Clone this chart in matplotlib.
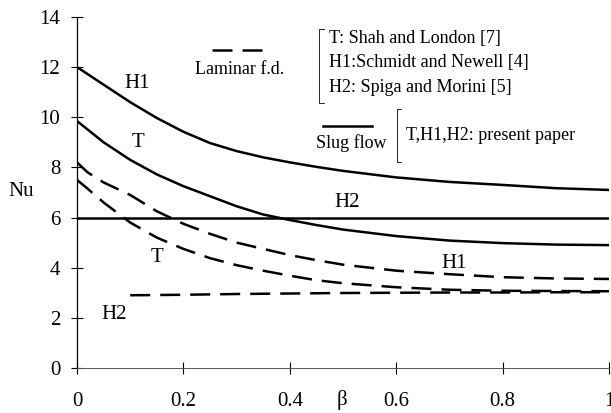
import numpy as np
import matplotlib.pyplot as plt

plt.rcParams['font.family'] = ['Liberation Serif', 'DejaVu Serif']

# slug flow (present paper), solid lines
beta_s = [0, 0.05, 0.1, 0.15, 0.2, 0.25, 0.3, 0.35, 0.4, 0.45, 0.5, 0.6, 0.7, 0.8, 0.9, 1.0]
nu_h1_slug = [12.0, 11.3, 10.6, 9.97, 9.42, 8.97, 8.65, 8.4, 8.2, 8.02, 7.86, 7.6, 7.42, 7.3, 7.17, 7.1]
nu_t_slug = [9.85, 9.0, 8.3, 7.72, 7.25, 6.85, 6.45, 6.12, 5.9, 5.7, 5.52, 5.26, 5.08, 4.98, 4.92, 4.9]
beta_h2_slug = [0, 1.0]
nu_h2_slug = [6.0, 6.0]

# laminar fully developed, dashed lines
beta_l = [0, 0.02, 0.05, 0.1, 0.15, 0.2, 0.25, 0.3, 0.35, 0.4, 0.45, 0.5, 0.6, 0.7, 0.8, 0.9, 1.0]
nu_h1_lam = [8.2, 7.8, 7.4, 6.9, 6.25, 5.75, 5.35, 5.0, 4.75, 4.5, 4.3, 4.12, 3.88, 3.74, 3.62, 3.57, 3.55]
nu_t_lam = [7.5, 7.15, 6.6, 5.8, 5.2, 4.75, 4.38, 4.1, 3.88, 3.68, 3.5, 3.38, 3.22, 3.12, 3.08, 3.07, 3.06]
beta_h2_lam = [0.1, 0.2, 0.3, 0.4, 0.5, 0.6, 0.7, 0.8, 0.9, 1.0]
nu_h2_lam = [2.9, 2.92, 2.95, 2.97, 2.99, 3.0, 3.01, 3.01, 3.02, 3.02]

fig = plt.figure(figsize=(6.11, 4.13), dpi=100)
ax = fig.add_axes([0.126, 0.109, 0.871, 0.85])

lw = 1.8
ax.plot(beta_s, nu_h1_slug, color='black', lw=lw, solid_joinstyle='round')
ax.plot(beta_s, nu_t_slug, color='black', lw=lw, solid_joinstyle='round')
ax.plot(beta_h2_slug, nu_h2_slug, color='black', lw=lw)
for y in (nu_h1_lam, nu_t_lam):
    ax.plot(beta_l, y, color='black', lw=lw, dashes=(8, 4))
ax.plot(beta_h2_lam, nu_h2_lam, color='black', lw=lw, dashes=(8, 4))

ax.set_xlim(0, 1)
ax.set_ylim(0, 14)
ax.set_xticks([0, 0.2, 0.4, 0.6, 0.8, 1])
ax.set_xticklabels(['0', '0.2', '0.4', '0.6', '0.8', '1'])
ax.set_yticks(range(0, 15, 2))
ax.tick_params(direction='inout', length=8, width=0.8, labelsize=15)
ax.tick_params(axis='x', pad=13)
ax.tick_params(axis='y', pad=8)
for s in ('top', 'right'):
    ax.spines[s].set_visible(False)
ax.spines['left'].set_linewidth(0.9)
ax.spines['bottom'].set_linewidth(0.7)
ax.spines['bottom'].set_color('#555555')

fig.text(21 / 611, 1 - 192 / 413, 'Nu', fontsize=15, ha='center', va='center')
fig.text(342 / 611, 1 - 400 / 413, 'β', fontsize=15, ha='center', va='center')

# curve labels
lab = dict(fontsize=15, ha='center', va='center')
ax.text(0.113, 11.35, 'H1', **lab)
ax.text(0.115, 9.0, 'T', **lab)
ax.text(0.508, 6.6, 'H2', **lab)
ax.text(0.708, 4.15, 'H1', **lab)
ax.text(0.15, 4.4, 'T', **lab)
ax.text(0.07, 2.15, 'H2', **lab)

# legend: laminar
fig.add_artist(plt.Line2D([212 / 611, 263 / 611], [1 - 50 / 413] * 2, color='black',
                          lw=lw, dashes=(8, 4), transform=fig.transFigure))
fig.text(240 / 611, 1 - 70 / 413, 'Laminar f.d.', fontsize=13, ha='center', va='center')

# bracket around references
bx = 319 / 611
fig.add_artist(plt.Line2D([bx + 5 / 611, bx, bx, bx + 5 / 611],
                          [1 - 29 / 413, 1 - 29 / 413, 1 - 103 / 413, 1 - 103 / 413],
                          color='black', lw=0.6, transform=fig.transFigure))
for i, t in enumerate(['T: Shah and London [7]', 'H1:Schmidt and Newell [4]',
                       'H2: Spiga and Morini [5]']):
    fig.text(329 / 611, 1 - (39 + 24 * i) / 413, t, fontsize=13, ha='left', va='center')

# legend: slug flow
fig.add_artist(plt.Line2D([323 / 611, 372 / 611], [1 - 126 / 413] * 2, color='black',
                          lw=lw, transform=fig.transFigure))
fig.text(351 / 611, 1 - 143 / 413, 'Slug flow', fontsize=13, ha='center', va='center')
bx2 = 397 / 611
fig.add_artist(plt.Line2D([bx2 + 4 / 611, bx2, bx2, bx2 + 4 / 611],
                          [1 - 109 / 413, 1 - 109 / 413, 1 - 162 / 413, 1 - 162 / 413],
                          color='black', lw=0.6, transform=fig.transFigure))
fig.text(406 / 611, 1 - 135 / 413, 'T,H1,H2: present paper', fontsize=13, ha='left', va='center')

fig.savefig('out.png', dpi=100)
